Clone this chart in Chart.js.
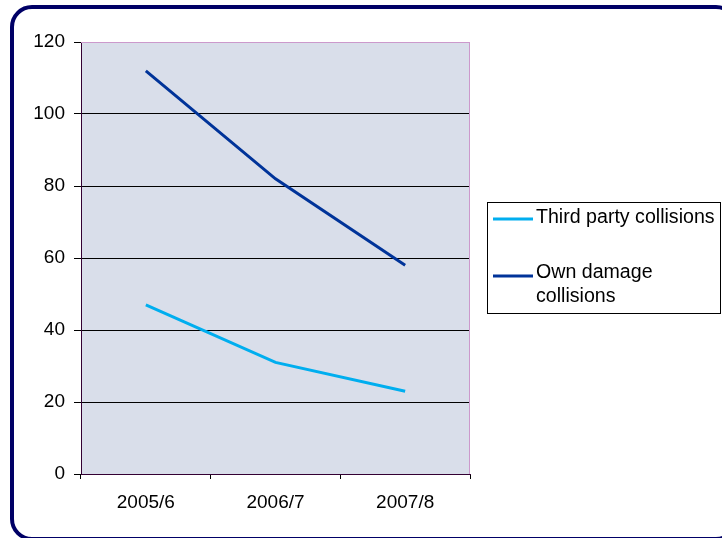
<!DOCTYPE html>
<html>
<head>
<meta charset="utf-8">
<script src="https://cdn.jsdelivr.net/npm/chart.js@4/dist/chart.umd.min.js"></script>
<style>
  html, body { margin: 0; padding: 0; background: #fff; overflow: hidden; }
  #wrap { position: relative; width: 722px; height: 538px; overflow: hidden; }
  #frame { position: absolute; left: 10px; top: 5px; width: 728px; height: 536px; box-sizing: border-box;
           border: 4px solid #000066; border-radius: 22px; pointer-events: none; }
  canvas { position: absolute; left: 0; top: 0; }
</style>
</head>
<body>
<div id="wrap">
  <canvas id="c" width="722" height="538"></canvas>
  <div id="frame"></div>
</div>
<script>
const categories = ['2005/6', '2006/7', '2007/8'];
const thirdParty = [47, 31, 23];
const ownDamage = [112, 82, 58];
const seriesNames = ['Third party collisions', 'Own damage collisions'];
const yTicks = [0, 20, 40, 60, 80, 100, 120];

const FONT = '"Liberation Sans", Arial, sans-serif';

const plotBg = {
  id: 'plotBg',
  beforeDraw(chart) {
    const { ctx, chartArea: a } = chart;
    ctx.save();
    ctx.fillStyle = '#D9DEEA';
    ctx.fillRect(a.left, a.top, a.right - a.left, a.bottom - a.top);
    ctx.restore();
  },
  afterDatasetsDraw(chart) {
    const { ctx, chartArea: a } = chart;
    ctx.save();
    ctx.strokeStyle = '#CC99CC';
    ctx.lineWidth = 1;
    ctx.beginPath();
    ctx.moveTo(a.left, a.top + 0.5);
    ctx.lineTo(a.right - 0.5, a.top + 0.5);
    ctx.lineTo(a.right - 0.5, a.bottom);
    ctx.stroke();
    ctx.restore();
  }
};

const boxLegend = {
  id: 'boxLegend',
  afterDraw(chart) {
    const { ctx } = chart;
    const bx = 487, by = 202, bw = 234, bh = 112;
    ctx.save();
    ctx.strokeStyle = '#000';
    ctx.lineWidth = 1;
    ctx.strokeRect(bx + 0.5, by + 0.5, bw - 1, bh - 1);
    ctx.font = '19.6px ' + FONT;
    ctx.fillStyle = '#000';
    ctx.textBaseline = 'middle';
    const maxW = 184;
    const rowY = [218, 273];
    chart.data.datasets.forEach((ds, i) => {
      const y = rowY[i];
      ctx.strokeStyle = ds.borderColor;
      ctx.lineWidth = 3;
      ctx.beginPath();
      ctx.moveTo(493, y + (i === 0 ? 1 : 3));
      ctx.lineTo(533, y + (i === 0 ? 1 : 3));
      ctx.stroke();
      const words = ds.label.split(' ');
      const lines = [];
      let cur = '';
      words.forEach(w => {
        const t = cur ? cur + ' ' + w : w;
        if (ctx.measureText(t).width > maxW && cur) { lines.push(cur); cur = w; }
        else cur = t;
      });
      if (cur) lines.push(cur);
      lines.forEach((ln, k) => ctx.fillText(ln, 536, y + k * 24));
    });
    ctx.restore();
  }
};

new Chart(document.getElementById('c'), {
  type: 'line',
  data: {
    labels: categories,
    datasets: [
      { label: seriesNames[0], data: thirdParty, borderColor: '#00AEEF', backgroundColor: '#00AEEF',
        borderWidth: 3, pointRadius: 0, tension: 0 },
      { label: seriesNames[1], data: ownDamage, borderColor: '#003399', backgroundColor: '#003399',
        borderWidth: 3, pointRadius: 0, tension: 0 }
    ]
  },
  options: {
    responsive: false,
    animation: false,
    devicePixelRatio: 1,
    layout: { padding: { top: 42, right: 252, bottom: 0, left: 0 } },
    plugins: { legend: { display: false }, tooltip: { enabled: false } },
    scales: {
      x: {
        offset: true,
        afterFit(s) { s.height = 64; },
        grid: { offset: true, drawOnChartArea: false, drawTicks: true, tickLength: 5, tickColor: '#000' },
        border: { color: '#330033', width: 1 },
        ticks: { color: '#000', font: { family: FONT, size: 19 }, padding: 12, maxRotation: 0 }
      },
      y: {
        min: 0, max: 120,
        afterFit(s) { s.width = 81; },
        afterBuildTicks(s) { s.ticks = yTicks.map(v => ({ value: v })); },
        grid: {
          color: ctx => (ctx.tick && ctx.tick.value === 120) ? '#CC99CC' : (ctx.tick && ctx.tick.value === 0 ? '#330033' : '#000'),
          lineWidth: 1, tickLength: 7, tickColor: '#000'
        },
        border: { color: '#330033', width: 1 },
        ticks: { color: '#000', font: { family: FONT, size: 19 }, padding: 9 }
      }
    }
  },
  plugins: [plotBg, boxLegend]
});
</script>
</body>
</html>
